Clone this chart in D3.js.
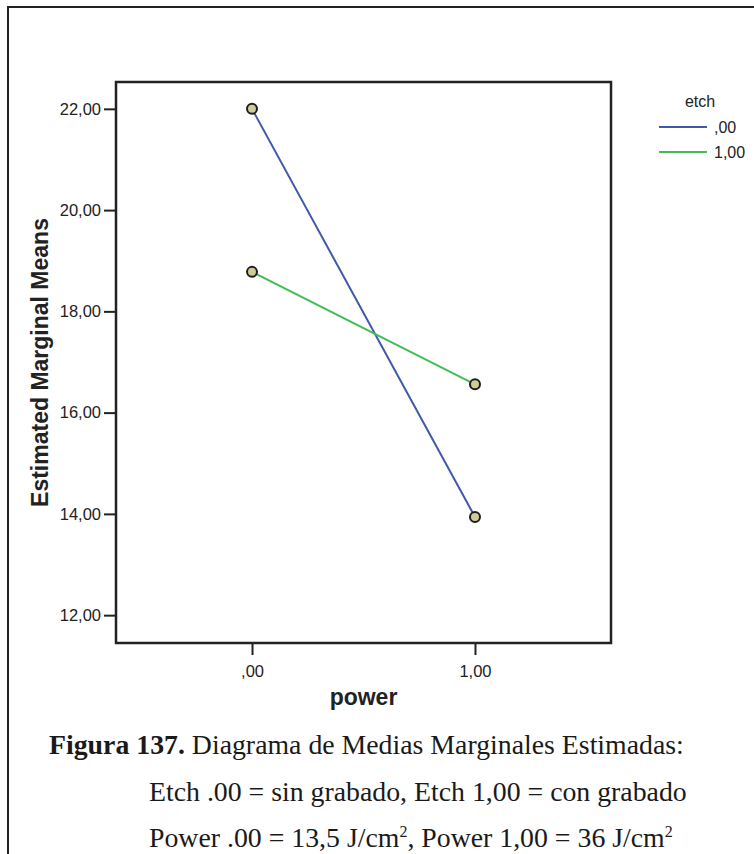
<!DOCTYPE html>
<meta charset="utf-8">
<style>
body { margin: 0; background: #fff; }
svg { display: block; }
.axis text { font-family: "Liberation Sans", Arial, sans-serif; font-size: 16.5px; fill: #222; }
.axis line { stroke: #222; stroke-width: 2; }
.title { font-family: "Liberation Sans", Arial, sans-serif; font-weight: bold; font-size: 23px; fill: #222; }
.legend text { font-family: "Liberation Sans", Arial, sans-serif; font-size: 16px; fill: #222; }
.caption { font-family: "Liberation Serif", "Times New Roman", serif; font-size: 27.8px; fill: #1a1a1a; }
</style>
<svg width="754" height="854"></svg>
<script src="https://d3js.org/d3.v7.min.js"></script>
<script>

// data
var powerLevels = [",00", "1,00"]
var etchLevels = [",00", "1,00"]
var etch0 = [22.00, 13.94]
var etch1 = [18.78, 16.56]
var yTicks = [12, 14, 16, 18, 20, 22]
var lineColors = ["#3e5aa9", "#45bb55"]

var series = [
  {etch: etchLevels[0], values: etch0},
  {etch: etchLevels[1], values: etch1}
]

var svg = d3.select("svg")

var box = {left: 116, right: 611, top: 82, bottom: 643}

var x = d3.scalePoint().domain(powerLevels).range([box.left, box.right]).padding(0.61)
var y = d3.scaleLinear().domain([11.45, 22.53]).range([box.bottom, box.top])

var fmt = function(v) { return d3.format(".2f")(v).replace(".", ",") }

// outer frame of the figure (cut by the page edge)
svg.append("path")
    .attr("d", "M8,860 L8,7 L760,7")
    .attr("fill", "none")
    .attr("stroke", "#222")
    .attr("stroke-width", 2)

// y axis
var yAxis = svg.append("g")
    .attr("class", "axis")
    .attr("transform", "translate(" + box.left + ",0)")
    .call(d3.axisLeft(y).tickValues(yTicks).tickSize(12).tickPadding(3).tickFormat(fmt))
yAxis.select(".domain").remove()

// x axis
var xAxis = svg.append("g")
    .attr("class", "axis")
    .attr("transform", "translate(0," + box.bottom + ")")
    .call(d3.axisBottom(x).tickSize(12).tickPadding(10))
xAxis.select(".domain").remove()

// plot box
svg.append("rect")
    .attr("x", box.left)
    .attr("y", box.top)
    .attr("width", box.right - box.left)
    .attr("height", box.bottom - box.top)
    .attr("fill", "none")
    .attr("stroke", "#222")
    .attr("stroke-width", 2.5)

// axis titles
svg.append("text")
    .attr("class", "title")
    .attr("x", (box.left + box.right) / 2)
    .attr("y", 705)
    .attr("text-anchor", "middle")
    .text("power")

svg.append("text")
    .attr("class", "title")
    .attr("transform", "translate(48," + (box.top + box.bottom) / 2 + ") rotate(-90)")
    .attr("text-anchor", "middle")
    .text("Estimated Marginal Means")

// lines
var line = d3.line()
    .x(function(d, i) { return x(powerLevels[i]) })
    .y(function(d) { return y(d) })

svg.selectAll(".series")
    .data(series)
    .enter().append("path")
    .attr("class", "series")
    .attr("d", function(d) { return line(d.values) })
    .attr("fill", "none")
    .attr("stroke", function(d, i) { return lineColors[i] })
    .attr("stroke-width", 2)

// points
series.forEach(function(s) {
  svg.selectAll(null)
      .data(s.values)
      .enter().append("circle")
      .attr("cx", function(d, i) { return x(powerLevels[i]) })
      .attr("cy", function(d) { return y(d) })
      .attr("r", 5)
      .attr("fill", "#d0cc97")
      .attr("stroke", "#1e1e1e")
      .attr("stroke-width", 2)
})

// legend
var legend = svg.append("g").attr("class", "legend")

legend.append("text")
    .attr("x", 700)
    .attr("y", 107)
    .attr("text-anchor", "middle")
    .text("etch")

var item = legend.selectAll(".item")
    .data(series)
    .enter().append("g")
    .attr("class", "item")
    .attr("transform", function(d, i) { return "translate(0," + (127 + i * 25) + ")" })

item.append("line")
    .attr("x1", 659)
    .attr("x2", 707)
    .attr("stroke", function(d, i) { return lineColors[i] })
    .attr("stroke-width", 2)

item.append("text")
    .attr("x", 714)
    .attr("dy", "0.35em")
    .text(function(d) { return d.etch })

// caption
var cap1 = svg.append("text").attr("class", "caption").attr("x", 49).attr("y", 754)
cap1.append("tspan").attr("font-weight", "bold").text("Figura 137.")
cap1.append("tspan").text(" Diagrama de Medias Marginales Estimadas:")

svg.append("text").attr("class", "caption").attr("x", 149).attr("y", 801)
    .text("Etch .00 = sin grabado, Etch 1,00 = con grabado")

var cap3 = svg.append("text").attr("class", "caption").attr("x", 149).attr("y", 847)
cap3.append("tspan").text("Power .00 = 13,5 J/cm")
cap3.append("tspan").attr("font-size", "16px").attr("dy", -10).text("2")
cap3.append("tspan").attr("dy", 10).text(", Power 1,00 = 36 J/cm")
cap3.append("tspan").attr("font-size", "16px").attr("dy", -10).text("2")

</script>
</html>
